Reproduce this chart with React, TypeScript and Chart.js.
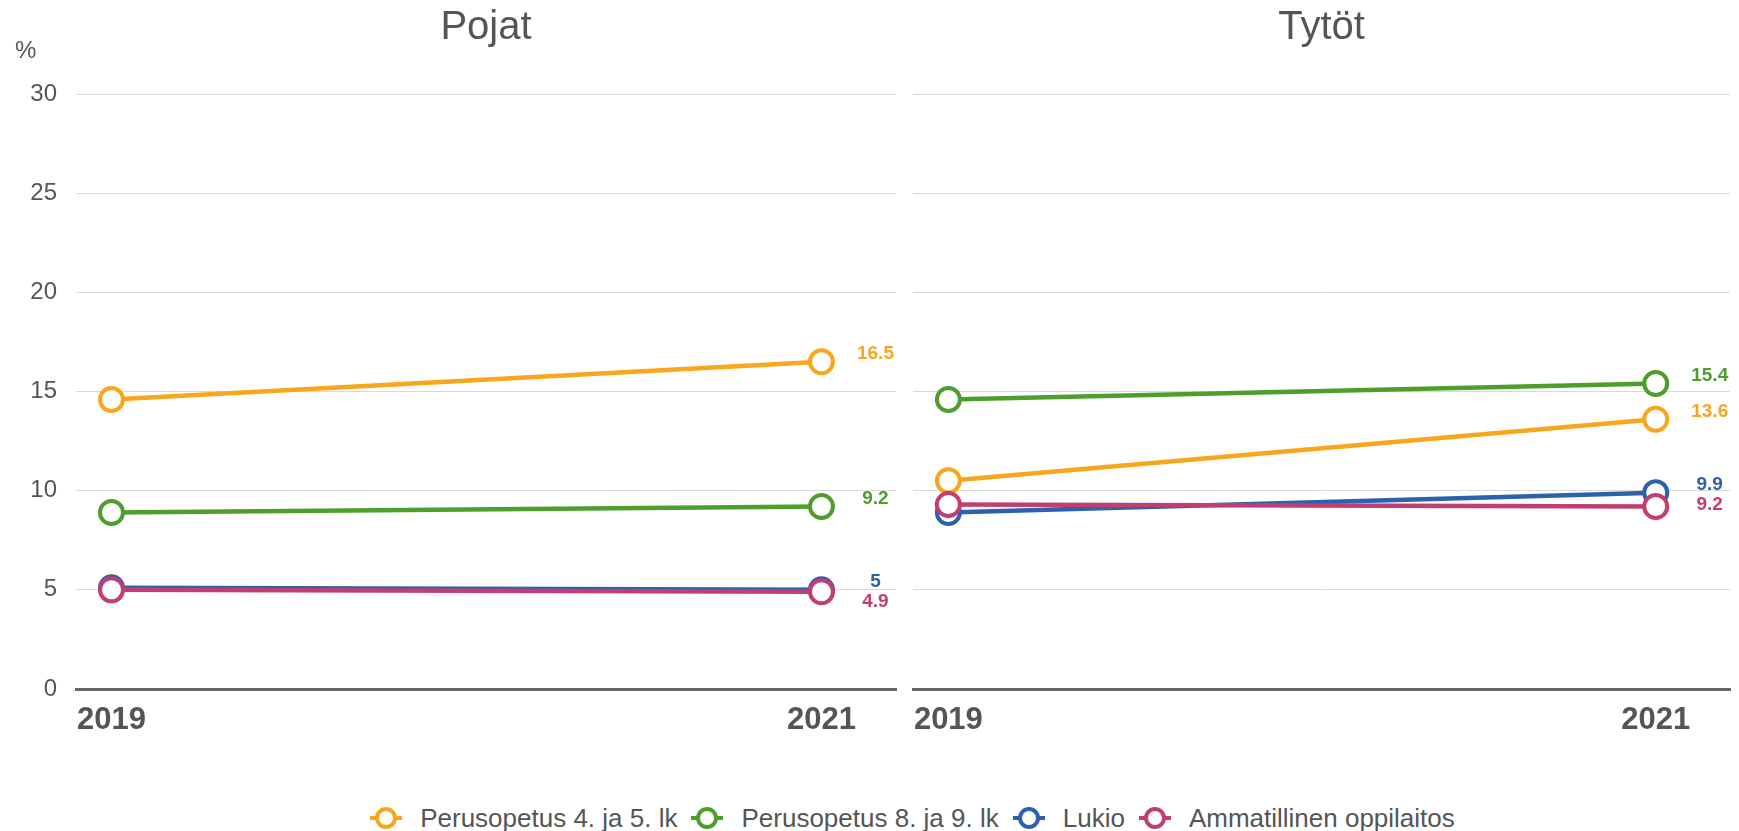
import React, { useEffect, useRef } from "react";
import { Chart, registerables } from "chart.js";
Chart.register(...registerables);

// ---------- data ----------
const years = [2019, 2021];
const seriesNames = [
  "Perusopetus 4. ja 5. lk",
  "Perusopetus 8. ja 9. lk",
  "Lukio",
  "Ammatillinen oppilaitos",
];
const seriesColors = ["#f8a61b", "#4e9e2c", "#2c61ae", "#c23e72"];
const pojat4_5 = [14.6, 16.5];
const pojat8_9 = [8.9, 9.2];
const pojatLukio = [5.1, 5.0];
const pojatAmm = [5.0, 4.9];
const tytot4_5 = [10.5, 13.6];
const tytot8_9 = [14.6, 15.4];
const tytotLukio = [8.9, 9.9];
const tytotAmm = [9.3, 9.2];
const yTicks = [0, 5, 10, 15, 20, 25, 30];
const panelTitles = ["Pojat", "Tytöt"];
const yUnit = "%";

const FONT = "'Liberation Sans', Arial, Helvetica, sans-serif";
const TEXT = "#555555";

const endLabels = {
  id: "endLabels",
  afterDatasetsDraw(chart: any, _args: any, opts: any) {
    const ctx = chart.ctx;
    const items = chart.data.datasets
      .map((ds: any, i: number) => {
        const meta = chart.getDatasetMeta(i);
        const pt = meta.data[meta.data.length - 1];
        const v = ds.data[ds.data.length - 1].y;
        return { x: pt.x + opts.dx, y: pt.y + opts.dy, text: String(v), color: ds.borderColor };
      })
      .sort((a: any, b: any) => a.y - b.y);
    for (let i = 1; i < items.length; i++) {
      if (items[i].y < items[i - 1].y + opts.gap) items[i].y = items[i - 1].y + opts.gap;
    }
    ctx.save();
    ctx.font = `bold 19px ${FONT}`;
    ctx.textAlign = "center";
    ctx.textBaseline = "middle";
    items.forEach((it: any) => {
      ctx.fillStyle = it.color;
      ctx.fillText(it.text, it.x, it.y);
    });
    ctx.restore();
  },
};

const unitLabel = {
  id: "unitLabel",
  afterDraw(chart: any, _args: any, opts: any) {
    if (!opts || !opts.text) return;
    const ctx = chart.ctx;
    ctx.save();
    ctx.font = `24px ${FONT}`;
    ctx.fillStyle = TEXT;
    ctx.textAlign = "left";
    ctx.textBaseline = "middle";
    ctx.fillText(opts.text, 15, chart.chartArea.top - 43);
    ctx.restore();
  },
};

function buildConfig(title: string, series: number[][], left: boolean) {
  return {
    type: "line" as const,
    data: {
      datasets: series.map((vals, i) => ({
        label: seriesNames[i],
        data: vals.map((v, j) => ({ x: years[j], y: v })),
        borderColor: seriesColors[i],
        backgroundColor: "#ffffff",
        pointBackgroundColor: "#ffffff",
        pointBorderColor: seriesColors[i],
        pointBorderWidth: 4,
        pointRadius: 11.5,
        borderWidth: 4.5,
        order: series.length - 1 - i,
        clip: false,
      })),
    },
    options: {
      animation: false as const,
      responsive: false,
      layout: { autoPadding: false, padding: { left: 0, right: left ? 4 : 9, top: 0, bottom: 11 } },
      plugins: {
        legend: { display: false },
        tooltip: { enabled: false },
        title: {
          display: true,
          text: title,
          fullSize: false,
          color: TEXT,
          font: { family: FONT, size: 40, weight: "normal" as const },
          padding: { top: 4, bottom: 42 },
        },
        endLabels: { dx: 54, dy: -8, gap: 20 },
        unitLabel: { text: left ? yUnit : "" },
      },
      scales: {
        x: {
          type: "linear" as const,
          min: 2018.9,
          max: 2021.21,
          afterBuildTicks: (scale: any) => {
            scale.ticks = years.map((v) => ({ value: v }));
          },
          afterFit: (scale: any) => {
            scale.height = 60;
            scale.paddingLeft = 0;
            scale.paddingRight = 0;
          },
          grid: { display: true, color: "rgba(0,0,0,0)", drawTicks: false },
          border: { display: true, color: "#666666", width: 3 },
          ticks: {
            color: TEXT,
            padding: 13,
            font: { family: FONT, size: 31, weight: "bold" as const },
            callback: (v: any) => String(v),
            maxRotation: 0,
            autoSkip: false,
          },
        },
        y: {
          min: 0,
          max: 30,
          afterBuildTicks: (scale: any) => {
            scale.ticks = yTicks.map((v) => ({ value: v }));
          },
          afterFit: (scale: any) => {
            scale.width = left ? 76 : 8;
            scale.paddingTop = 0;
            scale.paddingBottom = 0;
          },
          grid: { color: "#d9d9d9", lineWidth: 1, drawTicks: false },
          border: { display: false },
          ticks: {
            display: left,
            color: TEXT,
            padding: 19,
            font: { family: FONT, size: 24 },
          },
        },
      },
    },
    plugins: [endLabels, unitLabel],
  };
}

function Panel(props: { title: string; series: number[][]; left: boolean; x: number; w: number }) {
  const ref = useRef<HTMLCanvasElement>(null);
  useEffect(() => {
    if (!ref.current) return;
    const chart = new Chart(ref.current, buildConfig(props.title, props.series, props.left) as any);
    return () => chart.destroy();
  }, []);
  return (
    <canvas
      ref={ref}
      width={props.w}
      height={760}
      style={{ position: "absolute", left: props.x, top: 0, width: props.w, height: 760 }}
    />
  );
}

function LegendItem({ name, color }: { name: string; color: string }) {
  return (
    <div style={{ display: "flex", alignItems: "center", marginRight: 14 }}>
      <div style={{ position: "relative", width: 32, height: 24, marginRight: 18 }}>
        <div style={{ position: "absolute", left: 0, top: 10, width: 32, height: 4, background: color }} />
        <div
          style={{
            position: "absolute",
            left: 5,
            top: 1,
            width: 14,
            height: 14,
            borderRadius: "50%",
            border: `4px solid ${color}`,
            background: "#fff",
          }}
        />
      </div>
      <span style={{ fontFamily: FONT, fontSize: 26, color: TEXT, whiteSpace: "nowrap" }}>{name}</span>
    </div>
  );
}

export default function App() {
  return (
    <div style={{ position: "fixed", left: 0, top: 0, width: 1739, height: 831, background: "#fff", overflow: "hidden" }}>
      <Panel title={panelTitles[0]} series={[pojat4_5, pojat8_9, pojatLukio, pojatAmm]} left={true} x={0} w={900} />
      <Panel title={panelTitles[1]} series={[tytot4_5, tytot8_9, tytotLukio, tytotAmm]} left={false} x={905} w={834} />
      <div
        style={{
          position: "absolute",
          left: 0,
          top: 804,
          width: 1739,
          height: 28,
          display: "flex",
          justifyContent: "center",
          alignItems: "center",
          paddingLeft: 100,
          boxSizing: "border-box",
        }}
      >
        {seriesNames.map((n, i) => (
          <LegendItem key={n} name={n} color={seriesColors[i]} />
        ))}
      </div>
    </div>
  );
}
